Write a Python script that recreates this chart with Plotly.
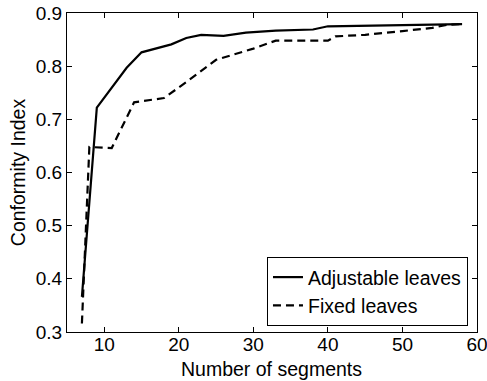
import plotly.graph_objects as go

# Data
adj_x = [7, 9, 13, 15, 19, 21, 23, 26, 29, 33, 38, 40, 58]
adj_y = [0.366, 0.722, 0.797, 0.826, 0.841, 0.853, 0.859, 0.857, 0.863, 0.867, 0.869, 0.875, 0.879]

fix_x = [7, 8, 11, 14, 18, 21, 25, 27, 30, 33, 40, 41, 45, 50, 54, 56, 58]
fix_y = [0.316, 0.648, 0.646, 0.732, 0.740, 0.770, 0.812, 0.820, 0.833, 0.848, 0.848, 0.856, 0.859, 0.866, 0.872, 0.878, 0.879]

x_ticks = [10, 20, 30, 40, 50, 60]
y_ticks = [0.3, 0.4, 0.5, 0.6, 0.7, 0.8, 0.9]

font = "Liberation Sans, Arial, Helvetica, sans-serif"
FS = 19.5
TFS = 19

fig = go.Figure()
fig.add_trace(go.Scatter(x=adj_x, y=adj_y, mode="lines", name="Adjustable leaves",
                         line=dict(color="black", width=2.2)))
fig.add_trace(go.Scatter(x=fix_x, y=fix_y, mode="lines", name="Fixed leaves",
                         line=dict(color="black", width=2.2, dash="8px,5px")))

axis_common = dict(showline=True, linecolor="black", linewidth=1, mirror="ticks",
                   ticks="inside", ticklen=5, tickcolor="black", showgrid=False,
                   zeroline=False, automargin=False,
                   tickfont=dict(size=TFS, color="black", family=font))

fig.update_xaxes(range=[5, 60], tickvals=x_ticks, ticktext=[str(v) for v in x_ticks],
                 ticklabeloverflow="allow", ticklabelstandoff=-5, **axis_common)
fig.update_yaxes(range=[0.3, 0.9], tickvals=y_ticks, ticktext=[f"{v:.1f}" for v in y_ticks],
                 title=dict(text="Conformity Index", font=dict(size=FS, color="black", family=font),
                            standoff=4), **axis_common)

fig.add_annotation(text="Number of segments", xref="paper", yref="paper",
                   x=0.498, y=-0.074, xanchor="center", yanchor="top", showarrow=False,
                   font=dict(size=FS, color="black", family=font))

fig.update_layout(
    width=487, height=381,
    margin=dict(l=67, r=10, t=13, b=49),
    plot_bgcolor="white", paper_bgcolor="white",
    font=dict(family=font, size=FS, color="black"),
    legend=dict(x=0.978, y=0.019, xanchor="right", yanchor="bottom",
                bordercolor="black", borderwidth=1, bgcolor="white",
                font=dict(size=FS, color="black", family=font),
                tracegroupgap=0, itemwidth=30),
    showlegend=True,
)

fig.write_html("out.html")
